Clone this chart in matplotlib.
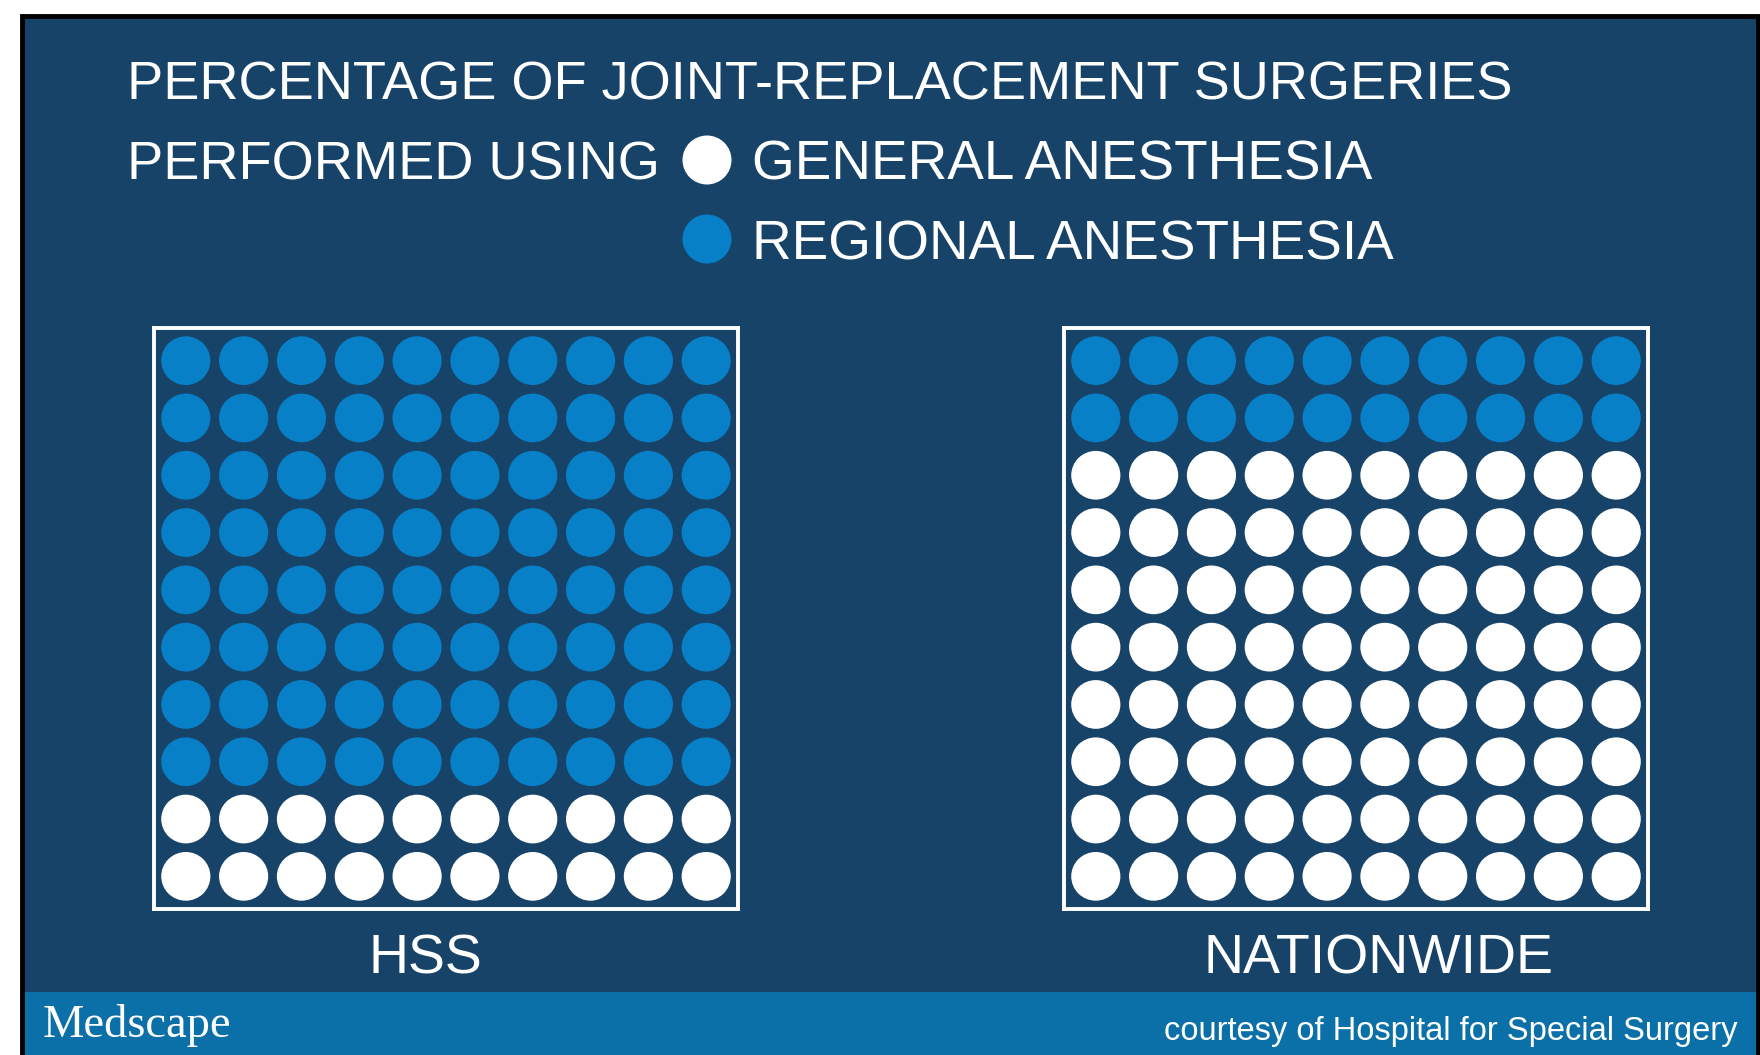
import matplotlib
matplotlib.use("Agg")
import matplotlib.pyplot as plt
from matplotlib.patches import Circle, Rectangle

# ---- data ----
groups = ["HSS", "NATIONWIDE"]
regional_pct = [80, 20]   # percent regional anesthesia
general_pct = [20, 80]    # percent general anesthesia
title_line1 = "PERCENTAGE OF JOINT-REPLACEMENT SURGERIES"
title_line2 = "PERFORMED USING"
legend_labels = ["GENERAL ANESTHESIA", "REGIONAL ANESTHESIA"]
credit = "courtesy of Hospital for Special Surgery"
brand = "Medscape"

# ---- style ----
BG = "#184368"
STRIP = "#0b6fa8"
BLUE = "#0780c8"
WHITE = "#ffffff"
FONT = ["Liberation Sans", "DejaVu Sans"]

W, H = 1760, 1055
fig = plt.figure(figsize=(W / 100, H / 100), dpi=100)
fig.patch.set_facecolor("white")

bg = fig.add_axes([0, 0, 1, 1])
bg.set_xlim(0, W)
bg.set_ylim(H, 0)
bg.axis("off")
bg.add_patch(Rectangle((23, 17), 1735, 1040, facecolor=BG, edgecolor="none", zorder=0))
bg.add_patch(Rectangle((23, 992), 1735, 63, facecolor=STRIP, edgecolor="none", zorder=1))
bg.plot([22, 22, 1758, 1758], [1055, 16, 16, 1055], color="black", lw=3.5, zorder=5,
        solid_joinstyle="miter")

# titles
bg.text(127, 100, title_line1, color=WHITE, fontsize=39, family=FONT, va="baseline", ha="left")
bg.text(127, 180, title_line2, color=WHITE, fontsize=39, family=FONT, va="baseline", ha="left")
leg_colors = [WHITE, BLUE]
for i, (lab, col) in enumerate(zip(legend_labels, leg_colors)):
    yb = 180 + i * 79
    bg.add_patch(Circle((707, yb - 20), 24.5, facecolor=col, edgecolor="none", zorder=3))
    bg.text(752, yb, lab, color=WHITE, fontsize=39.5, family=FONT, va="baseline", ha="left")

bg.text(43, 1037, brand, color=WHITE, fontsize=33.5, family=["Liberation Serif", "DejaVu Serif"],
        va="baseline", ha="left")
bg.text(1737, 1040, credit, color=WHITE, fontsize=23.5, family=FONT, va="baseline", ha="right")

# waffle boxes
box_left = [154, 1064]
box_w, box_h, box_top = 584, 581, 328
label_x = [425, 1378]
for g, left, reg, lx in zip(groups, box_left, regional_pct, label_x):
    ax = fig.add_axes([left / W, 1 - (box_top + box_h) / H, box_w / W, box_h / H])
    ax.set_xlim(-0.55, 9.55)
    ax.set_ylim(9.57, -0.57)
    ax.set_facecolor("none")
    ax.set_xticks([]); ax.set_yticks([])
    for s in ax.spines.values():
        s.set_color(WHITE)
        s.set_linewidth(2.8)
    for k in range(100):
        r, c = divmod(k, 10)
        col = BLUE if k < reg else WHITE
        ax.add_patch(Circle((c, r), 0.425, facecolor=col, edgecolor="none"))
    bg.text(lx, 974, g, color=WHITE, fontsize=40, family=FONT, va="baseline", ha="center")

fig.savefig("out.png", dpi=100, facecolor="white")
